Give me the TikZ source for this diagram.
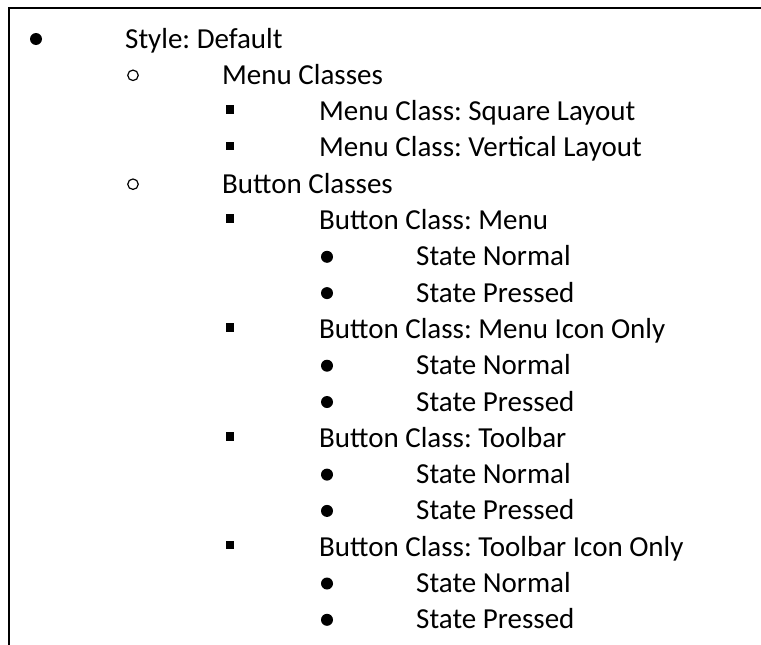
\documentclass[tikz,border=0pt]{standalone}
\usepackage{fontspec}
\setmainfont{Carlito}
\usepackage{tikz}
\usetikzlibrary{positioning}

\newcommand{\itemfont}{\fontsize{29}{36}\selectfont\frenchspacing}

\tikzset{
  frame/.style={line width=2pt, black},
  entry/.style={anchor=base west, inner sep=0pt, font=\itemfont},
  bul1/.style={circle, fill=black, minimum size=12pt, inner sep=0pt},
  bul2/.style={circle, draw=black, line width=1.2pt, minimum size=10.5pt, inner sep=0pt},
  bul3/.style={rectangle, fill=black, minimum size=8.5pt, inner sep=0pt, yshift=2pt},
  bul4/.style={circle, fill=black, minimum size=12pt, inner sep=0pt}
}

\begin{document}
\begin{tikzpicture}[x=1pt, y=-1pt]
        \useasboundingbox (0,0) rectangle (761,645);

        % Frame (top and left side only)
        \coordinate (topleft) at (9,8);
        \coordinate (topright) at (761,8);
        \coordinate (botleft) at (9,645);
        \draw[frame] (topright) -- (topleft) -- (botleft);

        % Outline entries: level / text
        \foreach \lvl/\txt [count=\i from 0] in {
            1/Style: Default,
            2/Menu Classes,
            3/Menu Class: Square Layout,
            3/Menu Class: Vertical Layout,
            2/Button Classes,
            3/Button Class: Menu,
            4/State Normal,
            4/State Pressed,
            3/Button Class: Menu Icon Only,
            4/State Normal,
            4/State Pressed,
            3/Button Class: Toolbar,
            4/State Normal,
            4/State Pressed,
            3/Button Class: Toolbar Icon Only,
            4/State Normal,
            4/State Pressed} {
          \pgfmathsetmacro{\ybase}{48+36.3*\i}
          \pgfmathsetmacro{\ymark}{\ybase-9}
          \pgfmathsetmacro{\xtext}{125+97*(\lvl-1)}
          \pgfmathsetmacro{\xmark}{36+97*(\lvl-1)}
          \node[entry] (item\i) at (\xtext,\ybase) {\txt};
          \node[bul\lvl] (mark\i) at (\xmark,\ymark) {};
        }
      \end{tikzpicture}
\end{document}
